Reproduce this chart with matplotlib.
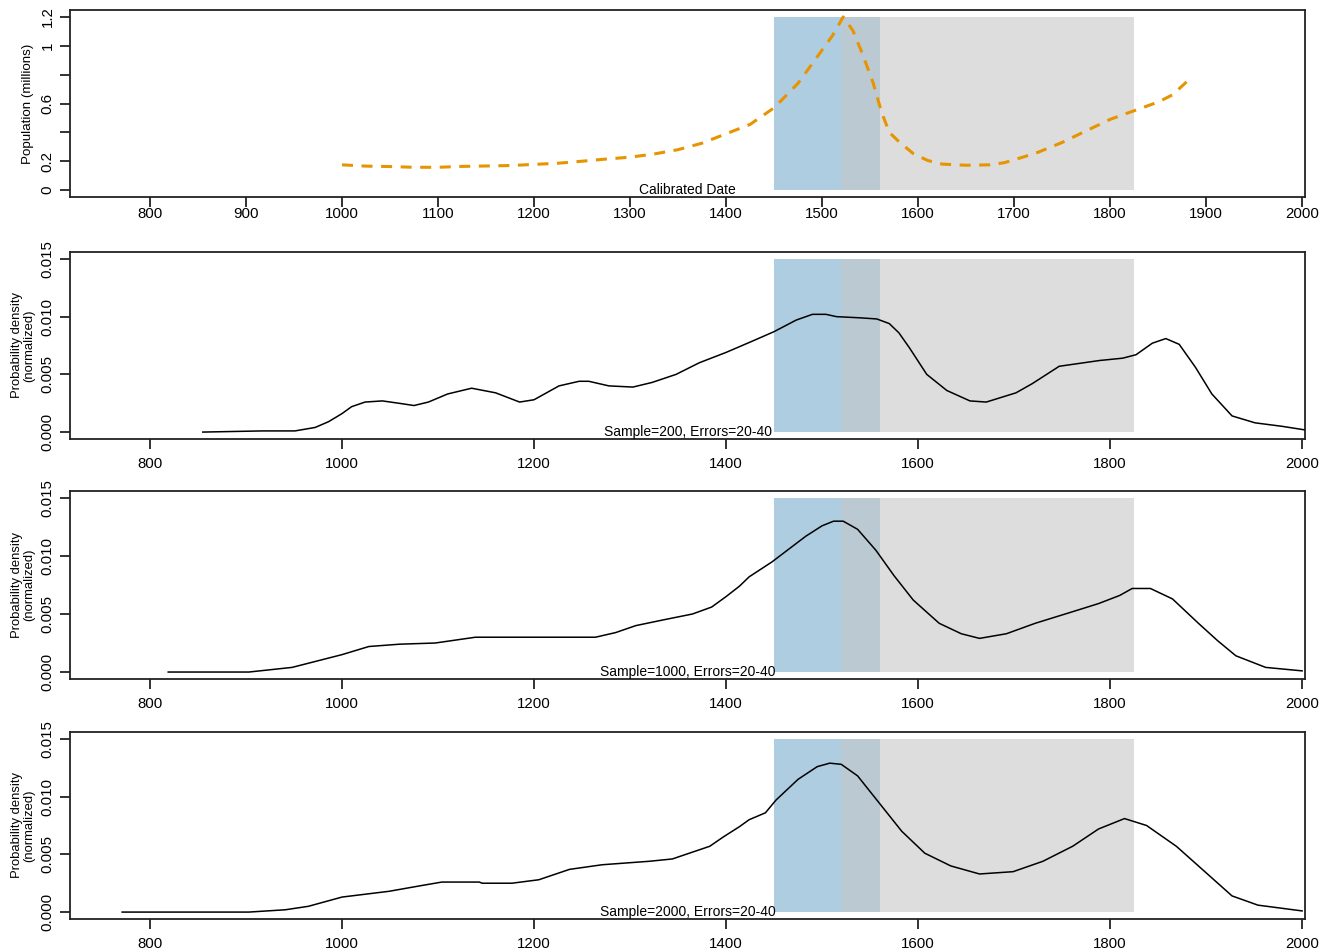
import matplotlib
matplotlib.use("Agg")
import matplotlib.pyplot as plt
from matplotlib.ticker import FixedLocator

plt.rcParams['font.family'] = ['Liberation Sans', 'DejaVu Sans']

# ---------------- data ----------------
pop_years = [1000, 1025, 1050, 1075, 1100, 1125, 1150, 1175, 1200, 1225, 1250, 1275, 1300,
             1325, 1350, 1375, 1400, 1425, 1450, 1475, 1500, 1511, 1522, 1532, 1542, 1553,
             1562, 1570, 1581, 1595, 1610, 1625, 1650, 1675, 1690, 1710, 1725, 1750, 1775,
             1800, 1825, 1850, 1865, 1880]
pop_values = [0.175, 0.166, 0.163, 0.158, 0.158, 0.164, 0.167, 0.170, 0.178, 0.186, 0.200,
              0.215, 0.228, 0.250, 0.280, 0.325, 0.390, 0.455, 0.570, 0.740, 0.970, 1.072,
              1.200, 1.107, 0.945, 0.747, 0.540, 0.400, 0.330, 0.253, 0.205, 0.180, 0.172,
              0.175, 0.190, 0.230, 0.262, 0.330, 0.410, 0.490, 0.550, 0.610, 0.660, 0.752]

yrs_200 = [855, 917, 951, 972, 986, 1000, 1010, 1024, 1042, 1059, 1075, 1090, 1110, 1135,
           1160, 1185, 1200, 1226, 1247, 1257, 1278, 1303, 1323, 1348, 1372, 1400, 1428,
           1450, 1473, 1490, 1504, 1515, 1539, 1557, 1570, 1580, 1591, 1609, 1630, 1654,
           1671, 1702, 1719, 1747, 1789, 1813, 1827, 1844, 1858, 1872, 1889, 1906, 1927,
           1951, 1979, 2002]
dens_200 = [0, 0.0001, 0.0001, 0.0004, 0.0009, 0.0016, 0.0022, 0.0026, 0.0027, 0.0025,
            0.0023, 0.0026, 0.0033, 0.0038, 0.0034, 0.0026, 0.0028, 0.0040, 0.0044, 0.0044,
            0.0040, 0.0039, 0.0043, 0.0050, 0.0060, 0.0069, 0.0079, 0.0087, 0.0097, 0.0102,
            0.0102, 0.0100, 0.0099, 0.0098, 0.0094, 0.0086, 0.0073, 0.0050, 0.0036, 0.0027,
            0.0026, 0.0034, 0.0042, 0.0057, 0.0062, 0.0064, 0.0067, 0.0077, 0.0081, 0.0076,
            0.0056, 0.0033, 0.0014, 0.0008, 0.0005, 0.0002]

yrs_1000 = [819, 903, 948, 1000, 1028, 1060, 1097, 1139, 1200, 1264, 1285, 1306, 1335,
            1365, 1385, 1400, 1414, 1424, 1448, 1483, 1500, 1512, 1522, 1537, 1556, 1575,
            1595, 1622, 1645, 1664, 1692, 1722, 1761, 1788, 1810, 1823, 1842, 1865, 1892,
            1912, 1931, 1962, 2000]
dens_1000 = [0, 0, 0.0004, 0.0015, 0.0022, 0.0024, 0.0025, 0.0030, 0.0030, 0.0030, 0.0034,
             0.0040, 0.0045, 0.0050, 0.0056, 0.0065, 0.0074, 0.0082, 0.0095, 0.0117, 0.0126,
             0.0130, 0.0130, 0.0123, 0.0105, 0.0083, 0.0062, 0.0042, 0.0033, 0.0029, 0.0033,
             0.0042, 0.0052, 0.0059, 0.0066, 0.0072, 0.0072, 0.0063, 0.0042, 0.0027, 0.0014,
             0.0004, 0.0001]

yrs_2000 = [771, 903, 941, 965, 1000, 1049, 1083, 1104, 1143, 1146, 1177, 1205, 1237, 1271,
            1320, 1344, 1383, 1397, 1414, 1424, 1441, 1452, 1475, 1495, 1508, 1520, 1537,
            1560, 1583, 1607, 1634, 1664, 1699, 1730, 1761, 1788, 1815, 1838, 1869, 1896,
            1927, 1954, 2000]
dens_2000 = [0, 0, 0.0002, 0.0005, 0.0013, 0.0018, 0.0023, 0.0026, 0.0026, 0.0025, 0.0025,
             0.0028, 0.0037, 0.0041, 0.0044, 0.0046, 0.0057, 0.0065, 0.0074, 0.0080, 0.0086,
             0.0097, 0.0115, 0.0126, 0.0129, 0.0128, 0.0118, 0.0094, 0.0070, 0.0051, 0.0040,
             0.0033, 0.0035, 0.0044, 0.0057, 0.0072, 0.0081, 0.0075, 0.0057, 0.0037, 0.0014,
             0.0006, 0.0001]

panel_labels = ["Sample=200, Errors=20-40", "Sample=1000, Errors=20-40",
                "Sample=2000, Errors=20-40"]

blue_span = (1450, 1560)
grey_span = (1520, 1825)

pop_yticks = [0, 0.2, 0.4, 0.6, 0.8, 1.0, 1.2]
pop_yticklabels = ["0", "0.2", "", "0.6", "", "1", "1.2"]
dens_yticks = [0.0, 0.005, 0.010, 0.015]
dens_yticklabels = ["0.000", "0.005", "0.010", "0.015"]
top_xticks = list(range(800, 2001, 100))
dens_xticks = list(range(800, 2001, 200))

# ---------------- figure ----------------
W, H = 1330, 952
fig = plt.figure(figsize=(W / 100, H / 100), dpi=100)

def box(top, bottom):
    return [70 / W, 1 - bottom / H, 1235 / W, (bottom - top) / H]

XLIM = (716.7, 2003)
BLUE = '#afcde0'
OVER = '#bbc9d3'
GREY = '#dddddd'


def shade(ax, ytop):
    b0, b1 = blue_span
    g0, g1 = grey_span
    ax.fill_between([b0, g0], 0, ytop, color=BLUE, lw=0, zorder=1)
    ax.fill_between([g0, b1], 0, ytop, color=OVER, lw=0, zorder=1)
    ax.fill_between([b1, g1], 0, ytop, color=GREY, lw=0, zorder=1)


def style(ax, xpad):
    for s in ax.spines.values():
        s.set_linewidth(1.3)
        s.set_color('#222222')
    ax.tick_params(axis='both', direction='out', length=7, width=1.3, labelsize=10.8,
                   color='#222222')
    ax.tick_params(axis='x', pad=xpad)
    ax.tick_params(axis='y', pad=4)
    for lab in ax.get_yticklabels():
        lab.set_rotation(90)
        lab.set_va('center')


# Panel 1
ax1 = fig.add_axes(box(10, 197))
shade(ax1, 1.2)
ax1.plot(pop_years, pop_values, color='#E69500', lw=2.2, ls=(0, (3.6, 2.8)), zorder=3)
ax1.set_xlim(*XLIM)
ax1.set_ylim(-0.048, 1.248)
ax1.xaxis.set_major_locator(FixedLocator(top_xticks))
ax1.set_yticks(pop_yticks)
ax1.set_yticklabels(pop_yticklabels)
ax1.set_ylabel("Population (millions)", fontsize=9.6, labelpad=5)
ax1.text(0.5, 0.0, "Calibrated Date", transform=ax1.transAxes, ha='center', va='bottom',
         fontsize=10)
style(ax1, 0.5)

# density panels
dens_boxes = [(252, 439), (491, 679), (732, 919)]
dens_series = [(yrs_200, dens_200), (yrs_1000, dens_1000), (yrs_2000, dens_2000)]
for (t, b), (xs, ys), lab in zip(dens_boxes, dens_series, panel_labels):
    ax = fig.add_axes(box(t, b))
    shade(ax, 0.015)
    ax.plot(xs, ys, color='black', lw=1.1, zorder=3)
    ax.set_xlim(*XLIM)
    ax.set_ylim(-0.0006, 0.0156)
    ax.set_xticks(dens_xticks)
    ax.set_yticks(dens_yticks)
    ax.set_yticklabels(dens_yticklabels)
    ax.set_ylabel("Probability density\n(normalized)", fontsize=9.4, labelpad=4,
                  linespacing=1.0)
    ax.text(0.5, 0.0, lab, transform=ax.transAxes, ha='center', va='bottom', fontsize=10)
    style(ax, 6)

fig.savefig("out.png", dpi=100)
